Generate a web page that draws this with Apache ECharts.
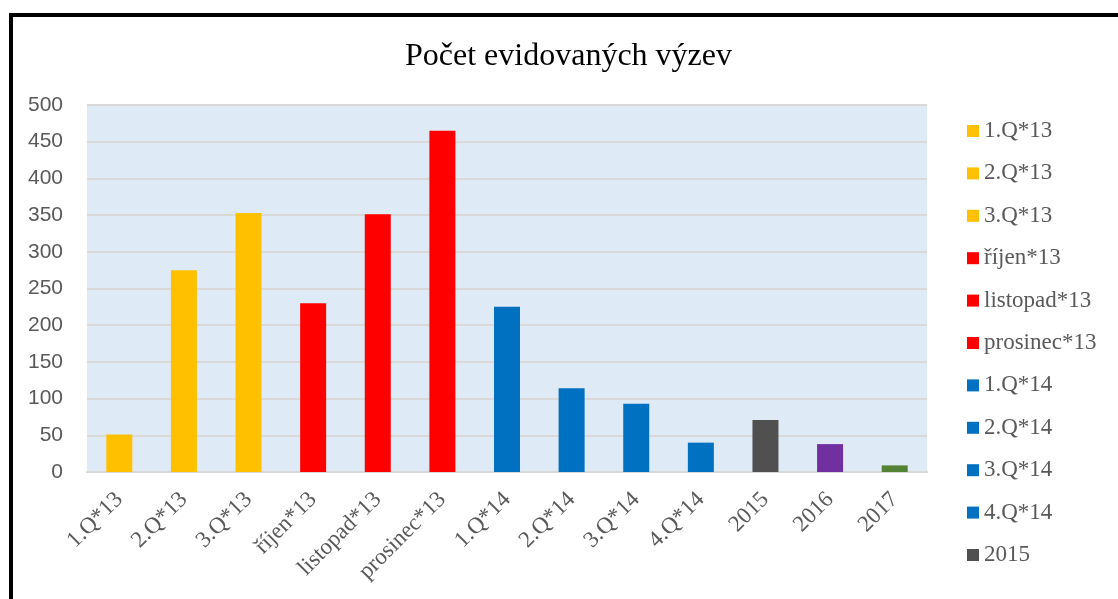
<!DOCTYPE html>
<html lang="cs">

<head>
    <meta charset="utf-8">
    <title>Počet evidovaných výzev</title>
    <script type="text/javascript" src="https://cdn.jsdelivr.net/npm/echarts@6/dist/echarts.min.js"></script>
    <style>
        html, body { margin: 0; padding: 0; background: #fff; }
        #chart { width: 1118px; height: 599px; }
    </style>
</head>

<body>
    <div id="chart"></div>

    <script>
        // data
        const categories = ['1.Q*13', '2.Q*13', '3.Q*13', 'říjen*13', 'listopad*13', 'prosinec*13',
            '1.Q*14', '2.Q*14', '3.Q*14', '4.Q*14', '2015', '2016', '2017'];
        const values = [51, 275, 353, 230, 351, 465, 225, 114, 93, 40, 71, 38, 9];
        const barColors = ['#FFC000', '#FFC000', '#FFC000', '#FF0000', '#FF0000', '#FF0000',
            '#0070C0', '#0070C0', '#0070C0', '#0070C0', '#505050', '#7030A0', '#548235'];
        // the legend in the original is cut after 2015
        const legendNames = categories.slice(0, 11);

        const chart = echarts.init(document.getElementById('chart'));

        // one series per category so the legend can list them; stacked so they share the slot
        const series = categories.map(function (name, i) {
            return {
                name: name,
                type: 'bar',
                stack: 'all',
                barWidth: 26,
                itemStyle: { color: barColors[i] },
                data: categories.map(function (c, j) { return j === i ? values[i] : '-'; })
            };
        });

        const option = {
            animation: false,
            title: {
                text: 'Počet evidovaných výzev',
                left: 405,
                top: 41,
                padding: 0,
                textStyle: { fontFamily: 'Liberation Serif', fontSize: 32, fontWeight: 'normal', color: '#000' }
            },
            grid: {
                left: 87, top: 105, right: 191, bottom: 127,
                show: true, backgroundColor: '#DEEAF6', borderWidth: 0
            },
            legend: {
                orient: 'vertical',
                left: 967,
                top: 119,
                padding: 0,
                itemWidth: 12,
                itemHeight: 12,
                itemGap: 18.4,
                icon: 'rect',
                data: legendNames,
                selectedMode: false,
                textStyle: { fontFamily: 'Liberation Serif', fontSize: 23, color: '#595959', lineHeight: 24 }
            },
            xAxis: {
                type: 'category',
                data: categories,
                axisTick: { show: false },
                axisLine: { lineStyle: { color: '#D9D9D9', width: 2 } },
                axisLabel: {
                    rotate: 45, interval: 0, margin: 24,
                    fontFamily: 'Liberation Serif', fontSize: 23, color: '#595959'
                }
            },
            yAxis: {
                type: 'value',
                min: 0, max: 500, interval: 50,
                axisLine: { show: false },
                axisTick: { show: false },
                splitLine: { lineStyle: { color: '#D9D9D9', width: 2 } },
                axisLabel: { margin: 24, fontFamily: 'Liberation Sans', fontSize: 21, color: '#595959' }
            },
            graphic: [{
                type: 'rect',
                z: 100,
                shape: { x: 11, y: 15, width: 1200, height: 700 },
                style: { fill: 'none', stroke: '#000', lineWidth: 4 }
            }],
            series: series
        };

        chart.setOption(option);
    </script>
</body>

</html>
